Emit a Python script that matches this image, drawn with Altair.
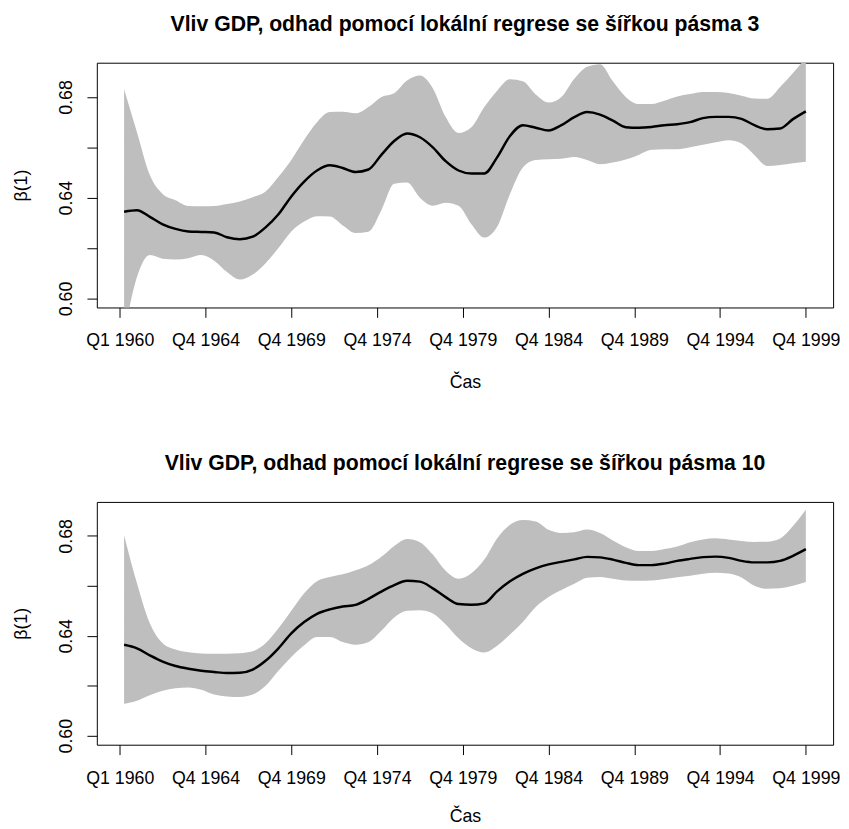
import json
import altair as alt
import pandas as pd

# quarter index (1 = Q1 1960 ... 160 = Q4 1999)
t = [1, 4, 7, 10, 13, 16, 19, 22, 25, 28, 31, 34, 37, 40, 43, 46, 49, 52, 55, 58,
     61, 64, 67, 70, 73, 76, 79, 82, 85, 88, 91, 94, 97, 100, 103, 106, 109, 112,
     115, 118, 121, 124, 127, 130, 133, 136, 139, 142, 145, 148, 151, 154, 157, 160]

# bandwidth 3
bw3_fit = [0.6344, 0.6350, 0.6324, 0.6294, 0.6276, 0.6266, 0.6264, 0.6262, 0.6243, 0.6235,
           0.6245, 0.6282, 0.6334, 0.6405, 0.6464, 0.6508, 0.6529, 0.6518, 0.6502, 0.6512,
           0.6570, 0.6625, 0.6655, 0.6640, 0.6600, 0.6545, 0.6508, 0.6496, 0.6496, 0.6560,
           0.6645, 0.6688, 0.6678, 0.6667, 0.6688, 0.6720, 0.6740, 0.6730, 0.6706, 0.6680,
           0.6678, 0.6681, 0.6688, 0.6692, 0.6700, 0.6716, 0.6721, 0.6721, 0.6713, 0.6688,
           0.6672, 0.6675, 0.6712, 0.6743]
bw3_hi = [0.6831, 0.6660, 0.6490, 0.6415, 0.6390, 0.6367, 0.6366, 0.6367, 0.6375, 0.6385,
          0.6402, 0.6425, 0.6483, 0.6550, 0.6630, 0.6700, 0.6740, 0.6741, 0.6735, 0.6760,
          0.6800, 0.6815, 0.6865, 0.6885, 0.6835, 0.6720, 0.6657, 0.6680, 0.6760, 0.6825,
          0.6870, 0.6862, 0.6810, 0.6778, 0.6800, 0.6872, 0.6920, 0.6930, 0.6862, 0.6800,
          0.6772, 0.6772, 0.6785, 0.6802, 0.6812, 0.6820, 0.6820, 0.6816, 0.6805, 0.6794,
          0.6793, 0.6840, 0.6895, 0.6955]
bw3_lo = [0.5857, 0.6085, 0.6172, 0.6158, 0.6155, 0.6160, 0.6172, 0.6150, 0.6105, 0.6075,
          0.6095, 0.6140, 0.6200, 0.6266, 0.6305, 0.6326, 0.6325, 0.6290, 0.6260, 0.6265,
          0.6350, 0.6455, 0.6460, 0.6400, 0.6368, 0.6380, 0.6368, 0.6295, 0.6242, 0.6285,
          0.6415, 0.6520, 0.6550, 0.6553, 0.6555, 0.6562, 0.6550, 0.6533, 0.6540, 0.6552,
          0.6570, 0.6590, 0.6592, 0.6592, 0.6600, 0.6610, 0.6620, 0.6628, 0.6615, 0.6570,
          0.6526, 0.6530, 0.6537, 0.6543]

# bandwidth 10
bw10_fit = [0.6364, 0.6350, 0.6322, 0.6297, 0.6279, 0.6268, 0.6260, 0.6255, 0.6251, 0.6252,
            0.6265, 0.6300, 0.6350, 0.6410, 0.6455, 0.6488, 0.6506, 0.6517, 0.6524, 0.6548,
            0.6577, 0.6603, 0.6620, 0.6617, 0.6590, 0.6555, 0.6527, 0.6524, 0.6530, 0.6578,
            0.6618, 0.6648, 0.6670, 0.6686, 0.6696, 0.6706, 0.6716, 0.6714, 0.6705, 0.6692,
            0.6683, 0.6683, 0.6689, 0.6700, 0.6708, 0.6715, 0.6717, 0.6712, 0.6700, 0.6694,
            0.6694, 0.6700, 0.6720, 0.6747]
bw10_hi = [0.6803, 0.6610, 0.6450, 0.6370, 0.6345, 0.6334, 0.6329, 0.6328, 0.6328, 0.6330,
           0.6338, 0.6370, 0.6430, 0.6500, 0.6570, 0.6618, 0.6635, 0.6646, 0.6662, 0.6682,
           0.6716, 0.6760, 0.6788, 0.6775, 0.6725, 0.6660, 0.6628, 0.6650, 0.6705, 0.6790,
           0.6845, 0.6864, 0.6858, 0.6825, 0.6812, 0.6815, 0.6826, 0.6812, 0.6782, 0.6755,
           0.6740, 0.6740, 0.6748, 0.6758, 0.6775, 0.6786, 0.6791, 0.6786, 0.6780, 0.6776,
           0.6777, 0.6790, 0.6840, 0.6905]
bw10_lo = [0.6128, 0.6140, 0.6162, 0.6180, 0.6190, 0.6193, 0.6184, 0.6165, 0.6157, 0.6155,
           0.6165, 0.6200, 0.6260, 0.6315, 0.6362, 0.6395, 0.6395, 0.6375, 0.6364, 0.6375,
           0.6420, 0.6473, 0.6500, 0.6502, 0.6489, 0.6445, 0.6390, 0.6350, 0.6333, 0.6360,
           0.6405, 0.6455, 0.6515, 0.6555, 0.6583, 0.6608, 0.6632, 0.6635, 0.6628, 0.6621,
           0.6620, 0.6621, 0.6627, 0.6634, 0.6640, 0.6648, 0.6652, 0.6649, 0.6633, 0.6600,
           0.6588, 0.6590, 0.6600, 0.6615]

x_tick_pos = [0, 20, 40, 60, 80, 100, 120, 140, 160]
x_tick_labels = ["Q1 1960", "Q4 1964", "Q4 1969", "Q4 1974", "Q4 1979",
                 "Q4 1984", "Q4 1989", "Q4 1994", "Q4 1999"]
y_tick_pos = [0.60, 0.62, 0.64, 0.66, 0.68]
y_tick_labels = ["0.60", "", "0.64", "", "0.68"]

titles = ["Vliv GDP, odhad pomocí lokální regrese se šířkou pásma 3",
          "Vliv GDP, odhad pomocí lokální regrese se šířkou pásma 10"]

FONT = "Liberation Sans"

x_label_expr = f"{json.dumps(x_tick_labels)}[indexof({json.dumps(x_tick_pos)}, datum.value)]"
y_label_expr = f"{json.dumps(y_tick_labels)}[indexof({json.dumps(y_tick_pos)}, datum.value)]"


def panel(title, fit, lo, hi, h, x_title_pad):
    df = pd.DataFrame({"t": t, "fit": fit, "lo": lo, "hi": hi})
    x_enc = alt.X(
        "t:Q",
        scale=alt.Scale(domain=[-5.36, 166.36], nice=False, zero=False),
        axis=alt.Axis(values=x_tick_pos, labelExpr=x_label_expr, title="Čas",
                      grid=False, domain=False, tickSize=10, labelPadding=15,
                      titlePadding=x_title_pad, labelOverlap=False, labelFlush=False),
    )
    y_scale = alt.Scale(domain=[0.5964, 0.6936], nice=False, zero=False)
    y_axis = alt.Axis(values=y_tick_pos, labelExpr=y_label_expr, title="β(1)",
                      grid=False, domain=False, tickSize=10, labelPadding=12,
                      titlePadding=27, labelAngle=270, labelAlign="center",
                      labelBaseline="bottom", labelOverlap=False, labelFlush=False)
    band = alt.Chart(df).mark_area(color="#BEBEBE", clip=True, interpolate="monotone").encode(
        x=x_enc,
        y=alt.Y("lo:Q", scale=y_scale, axis=y_axis),
        y2="hi:Q",
    )
    line = alt.Chart(df).mark_line(color="black", strokeWidth=2.5, clip=True,
                                   interpolate="monotone").encode(
        x=x_enc,
        y=alt.Y("fit:Q", scale=y_scale, axis=y_axis),
    )
    return alt.layer(band, line).properties(
        width=746, height=h,
        title=alt.TitleParams(title, fontSize=21.5, font=FONT, fontWeight="bold",
                              offset=28, anchor="middle", color="black"),
    )


chart = alt.vconcat(
    panel(titles[0], bw3_fit, bw3_lo, bw3_hi, 248, 24),
    panel(titles[1], bw10_fit, bw10_lo, bw10_hi, 246, 21),
    spacing=61,
).configure_view(
    stroke="black", strokeWidth=1
).configure_axis(
    labelFont=FONT, titleFont=FONT, labelFontSize=18, titleFontSize=18,
    titleFontWeight="normal", labelColor="black", titleColor="black",
    tickColor="black", tickWidth=1,
).properties(
    padding={"left": 4, "top": 0, "right": 0, "bottom": 0}
)

chart.save("out.html", embed_options={"renderer": "svg", "actions": False})
